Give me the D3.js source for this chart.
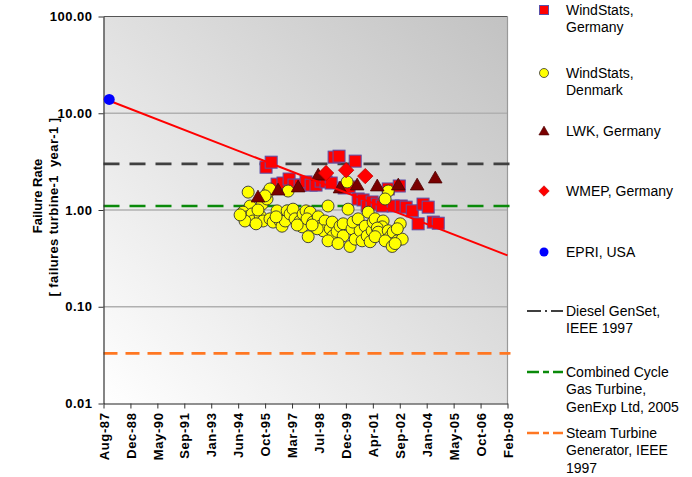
<!DOCTYPE html>
<html><head><meta charset="utf-8">
<script src="https://cdn.jsdelivr.net/npm/d3@7"></script>
<style>
html,body{margin:0;padding:0;background:#fff;}
svg{display:block;font-family:"Liberation Sans",Arial,sans-serif;}
</style></head>
<body><svg id="chart" width="692" height="477"></svg>
<script>
// ---- data (dates as decimal years, rates in failures/turbine/year) ----
const xTickStart = "1987-08-11";       // first axis tick, ticks every 500 days
const xTickCount = 16;
const yTickValues = [0.01, 0.1, 1, 10, 100];

const wsGermanyDates = [1995.87,1996.13,1996.43,1996.73,1997.04,1997.29,1997.60,1997.90,1998.16,1998.41,1998.67,1998.92,1999.18,1999.33,1999.58,1999.84,2000.09,2000.40,2000.55,2000.80,2001.01,2001.26,2001.52,2001.77,2002.08,2002.33,2002.64,2002.74,2002.99,2003.30,2003.60,2003.85,2004.11,2004.37,2004.62];
const wsGermanyRates = [2.77,3.12,1.85,1.90,2.09,1.81,1.81,1.95,1.81,1.81,1.99,1.95,1.90,3.52,3.60,1.69,1.73,3.20,1.30,1.27,1.10,1.21,1.15,1.10,1.65,1.10,1.77,1.10,1.07,0.98,0.72,1.15,1.07,0.75,0.73];

const wsDenmarkDates = [1994.96,1995.06,1994.70,1994.91,1995.16,1995.21,1994.80,1995.57,1995.72,1995.67,1995.92,1995.97,1996.07,1995.82,1996.07,1996.23,1996.43,1996.58,1996.68,1996.84,1996.94,1996.99,1997.09,1997.24,1997.34,1997.60,1997.75,1997.70,1997.90,1998.11,1997.95,1997.45,1998.26,1998.52,1998.62,1998.87,1999.02,1998.77,1999.13,1999.23,1999.28,1999.02,1999.48,1999.63,1999.79,1999.99,2000.04,1999.79,2000.14,2000.24,2000.29,2000.40,2000.55,2000.65,2000.75,2000.91,2001.06,2001.01,2001.16,2001.26,2001.31,2002.08,2001.92,2001.41,2001.82,2001.77,2001.52,2001.57,2001.41,2002.08,2002.18,2002.33,2001.92,2002.54,2002.69,2002.79,2002.28,2002.54,2002.43,1998.47,1995.46,1995.36,1996.38,1998.01,1999.53,1994.55,1998.21];
const wsDenmarkRates = [1.53,1.10,0.95,0.85,0.91,0.77,0.77,0.87,0.77,1.15,1.30,1.53,1.65,1.40,0.81,0.75,0.98,0.77,0.68,0.77,0.98,1.57,0.91,1.02,0.81,0.77,0.91,0.67,0.98,0.95,0.81,0.70,0.75,0.85,0.68,0.77,1.10,0.61,0.64,0.75,0.54,0.48,0.60,0.68,0.72,1.95,1.02,0.54,0.42,0.64,0.75,0.50,0.81,0.61,0.48,0.68,0.95,0.54,0.47,0.61,0.75,1.57,1.30,0.81,0.77,0.67,0.65,0.59,0.53,0.61,0.53,0.59,0.48,0.48,0.72,0.50,0.42,0.64,0.45,0.64,1.00,0.72,0.85,0.53,0.45,0.89,0.70];

const lwkDates = [1995.46,1996.48,1997.50,1998.52,1999.63,2000.50,2001.52,2002.59,2003.55,2004.47];
const lwkRates = [1.33,1.57,1.69,2.24,1.65,1.77,1.73,1.77,1.77,2.09];

const wmepDates = [1998.92,1999.94,2000.91];
const wmepRates = [2.41,2.58,2.24];

const epriDates = [1987.90];
const epriRates = [13.9];

const trendDates = [1987.61, 2008.14];
const trendRates = [14.2, 0.34];

const refNames = ["Diesel GenSet, IEEE 1997","Combined Cycle Gas Turbine, GenExp Ltd, 2005","Steam Turbine Generator, IEEE 1997"];
const refRates = [3.0, 1.1, 0.033];
const refColors = ["#404040","#0a8a0a","#ff7722"];

const yTitle1 = "Failure Rate";
const yTitle2 = "[ failures turbine-1  year-1 ]";

const legendLabels = [["WindStats,","Germany"],["WindStats,","Denmark"],["LWK, Germany"],["WMEP, Germany"],["EPRI, USA"]];
const refLegendLabels = [["Diesel GenSet,","IEEE 1997"],["Combined Cycle","Gas Turbine,","GenExp Ltd, 2005"],["Steam Turbine","Generator, IEEE","1997"]];

// ---- helpers ----
function dy(t){const y=Math.floor(t);const s=new Date(y,0,1),e=new Date(y+1,0,1);return new Date(+s+(t-y)*(e-s));}
const t0 = new Date(xTickStart+"T00:00:00");
const xTicks = d3.range(xTickCount).map(i=>new Date(t0.getFullYear(),t0.getMonth(),t0.getDate()+500*i));

const L=103.5, R=507.5, T=16.5, B=403.5;
const x = d3.scaleTime().domain([xTicks[0], xTicks[xTicks.length-1]]).range([L,R]);
const y = d3.scaleLog().domain([0.01,100]).range([B,T]);

const svg = d3.select("#chart");
const defs = svg.append("defs");
const g = defs.append("linearGradient").attr("id","bg").attr("x1",0).attr("y1",1).attr("x2",1).attr("y2",0);
g.append("stop").attr("offset","0%").attr("stop-color","#ffffff");
g.append("stop").attr("offset","100%").attr("stop-color","#c2c2c2");
defs.append("clipPath").attr("id","clip").append("rect").attr("x",L).attr("y",T).attr("width",R-L+4).attr("height",B-T);

svg.append("rect").attr("x",L).attr("y",T).attr("width",R-L).attr("height",B-T).attr("fill","url(#bg)");

// gridlines
svg.append("g").selectAll("line").data([0.1,1,10]).join("line")
  .attr("x1",L).attr("x2",R).attr("y1",d=>y(d)).attr("y2",d=>y(d))
  .attr("stroke","#b0b0b0").attr("stroke-width",1.5);

// frame top/right
svg.append("line").attr("x1",L).attr("x2",R).attr("y1",T).attr("y2",T).attr("stroke","#555").attr("stroke-width",1.2);
svg.append("line").attr("x1",R).attr("x2",R).attr("y1",T).attr("y2",B).attr("stroke","#999").attr("stroke-width",1.2);

// reference dashed lines
const refDash = ["16,10","16,10","14,8"];
svg.append("g").selectAll("line").data(refRates).join("line")
  .attr("x1",L).attr("x2",R+3).attr("y1",d=>y(d)).attr("y2",d=>y(d))
  .attr("stroke",(d,i)=>refColors[i]).attr("stroke-width",2.6)
  .attr("stroke-dasharray",(d,i)=>refDash[i]);

// axes
const yAxis = d3.axisLeft(y).tickValues(yTickValues).tickFormat(d3.format(".2f")).tickSize(5).tickSizeOuter(0);
const ya = svg.append("g").attr("transform",`translate(${L},0)`).call(yAxis);
ya.select(".domain").attr("stroke","#333").attr("stroke-width",1.2);
ya.selectAll(".tick line").attr("stroke","#333");
ya.selectAll(".tick text").attr("x",-11).attr("font-size",13).attr("font-weight","bold").attr("fill","#000")
  .attr("font-family","'Liberation Sans',Arial,sans-serif").attr("letter-spacing","0.5px");

const xAxis = d3.axisBottom(x).tickValues(xTicks).tickFormat(d3.timeFormat("%b-%y")).tickSize(5).tickSizeOuter(0);
const xa = svg.append("g").attr("transform",`translate(0,${B})`).call(xAxis);
xa.select(".domain").attr("stroke","#222").attr("stroke-width",1.2);
xa.selectAll(".tick line").attr("stroke","#333");
xa.selectAll(".tick text").attr("transform","rotate(-90)").attr("x",-9).attr("y",0).attr("dy","0.36em")
  .attr("text-anchor","end").attr("font-size",13).attr("font-weight","bold").attr("fill","#000")
  .attr("font-family","'Liberation Sans',Arial,sans-serif").attr("letter-spacing","0.6px");

// y title
svg.append("text").attr("transform","translate(42,196) rotate(-90)").attr("text-anchor","middle")
  .attr("font-size",13).attr("font-weight","bold").text(yTitle1);
svg.append("text").attr("transform","translate(58,207) rotate(-90)").attr("text-anchor","middle")
  .attr("font-size",13).attr("font-weight","bold").attr("letter-spacing","0.4px").attr("xml:space","preserve").style("white-space","pre").text(yTitle2);

// markers
const plot = svg.append("g").attr("clip-path","url(#clip)");
const sq = wsGermanyDates.map((d,i)=>({d:dy(d),v:wsGermanyRates[i]}));
plot.append("g").selectAll("rect").data(sq).join("rect")
  .attr("x",p=>x(p.d)-6).attr("y",p=>y(p.v)-6).attr("width",12).attr("height",12)
  .attr("fill","#ff0000").attr("stroke","#5a4fa8").attr("stroke-width",1);

const ci = wsDenmarkDates.map((d,i)=>({d:dy(d),v:wsDenmarkRates[i]}));
plot.append("g").selectAll("circle").data(ci).join("circle")
  .attr("cx",p=>x(p.d)).attr("cy",p=>y(p.v)).attr("r",6)
  .attr("fill","#ffff00").attr("stroke","#333").attr("stroke-width",0.9);

const tri = d3.symbol().type(d3.symbolTriangle).size(80);
const tr = lwkDates.map((d,i)=>({d:dy(d),v:lwkRates[i]}));
plot.append("g").selectAll("path").data(tr).join("path")
  .attr("d",tri).attr("transform",p=>`translate(${x(p.d)},${y(p.v)})`)
  .attr("fill","#7a0000").attr("stroke","#4a0000").attr("stroke-width",0.8);

const dia = d3.symbol().type(d3.symbolDiamond2).size(150);
const dm = wmepDates.map((d,i)=>({d:dy(d),v:wmepRates[i]}));
plot.append("g").selectAll("path").data(dm).join("path")
  .attr("d",dia).attr("transform",p=>`translate(${x(p.d)},${y(p.v)})`)
  .attr("fill","#ff0000").attr("stroke","#c00000").attr("stroke-width",0.8);

// trend line
const trend = trendDates.map((d,i)=>({d:dy(d),v:trendRates[i]}));
plot.append("path").datum(trend)
  .attr("d",d3.line().x(p=>x(p.d)).y(p=>y(p.v)))
  .attr("stroke","#ff0000").attr("stroke-width",2).attr("fill","none");

const ep = epriDates.map((d,i)=>({d:dy(d),v:epriRates[i]}));
svg.append("g").selectAll("circle").data(ep).join("circle")
  .attr("cx",p=>x(p.d)).attr("cy",p=>y(p.v)).attr("r",5.5).attr("fill","#0000ff");

// legend
const lg = svg.append("g").attr("font-size",14).attr("fill","#000");
const legY = [10,73,131,191,252];
const mx = 544, tx = 566, lh = 17.5;
function legText(lines, y0){
  lines.forEach((s,i)=>lg.append("text").attr("x",tx).attr("y",y0+i*lh).attr("dy","0.35em").text(s));
}
lg.append("rect").attr("x",mx-4.5).attr("y",legY[0]-4.5).attr("width",9).attr("height",9).attr("fill","#ff0000").attr("stroke","#5a4fa8");
lg.append("circle").attr("cx",mx).attr("cy",legY[1]).attr("r",4.5).attr("fill","#ffff00").attr("stroke","#333").attr("stroke-width",0.8);
lg.append("path").attr("d",d3.symbol().type(d3.symbolTriangle).size(45)).attr("transform",`translate(${mx},${legY[2]+1})`).attr("fill","#7a0000").attr("stroke","#4a0000").attr("stroke-width",0.6);
lg.append("path").attr("d",d3.symbol().type(d3.symbolDiamond2).size(70)).attr("transform",`translate(${mx},${legY[3]})`).attr("fill","#ff0000").attr("stroke","#c00000").attr("stroke-width",0.6);
lg.append("circle").attr("cx",mx).attr("cy",legY[4]).attr("r",4.5).attr("fill","#0000ff");
legendLabels.forEach((l,i)=>legText(l,legY[i]));

const refLegY = [311,372,433];
const refLegDash = ["14,4,2,4,14","12,4,6,4,12","12,4,6,4,12"];
const refLegW = [1.3,2.6,2.6];
const refLegC = ["#000","#0a8a0a","#ff7722"];
refLegY.forEach((yy,i)=>{
  lg.append("line").attr("x1",527).attr("x2",563).attr("y1",yy).attr("y2",yy)
    .attr("stroke",refLegC[i]).attr("stroke-width",refLegW[i]).attr("stroke-dasharray",refLegDash[i]);
  legText(refLegendLabels[i], yy);
});
</script></body></html>
